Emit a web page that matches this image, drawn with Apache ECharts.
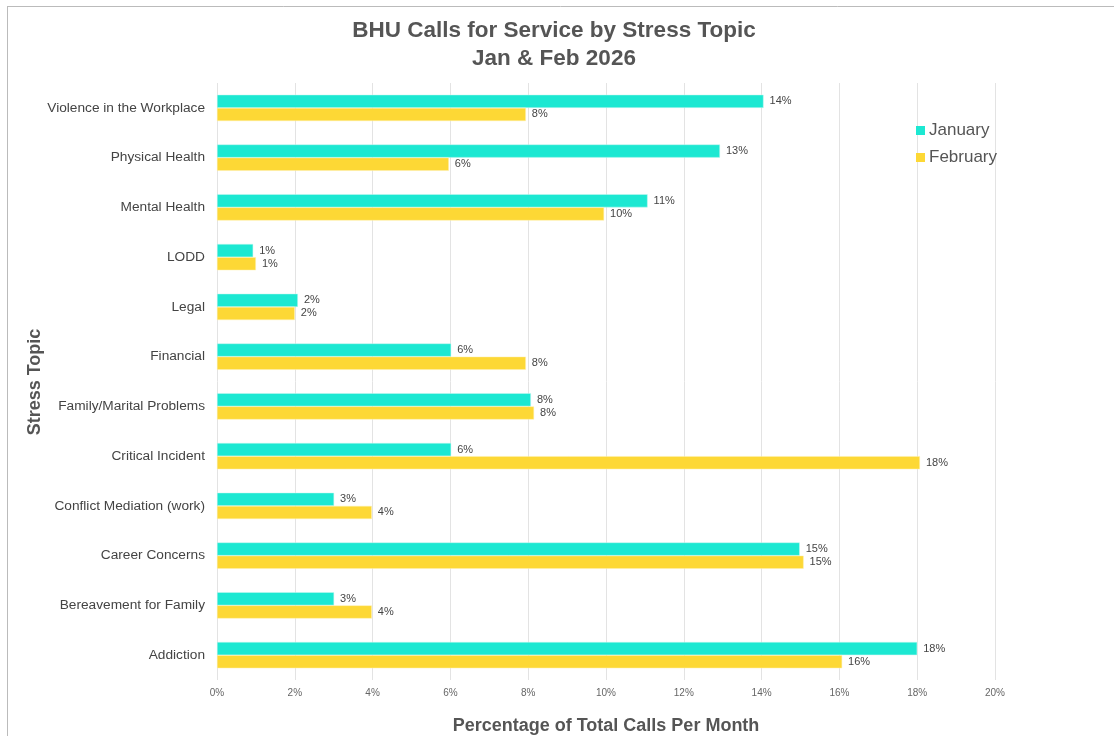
<!DOCTYPE html>
<html>
<head>
<meta charset="utf-8">
<script src="https://cdn.jsdelivr.net/npm/echarts@6/dist/echarts.min.js"></script>
<style>
html,body{margin:0;padding:0;background:#fff;}
#chart{width:1114px;height:736px;}
</style>
</head>
<body>
<div id="chart"></div>
<script>
const categories = [
  'Violence in the Workplace','Physical Health','Mental Health','LODD','Legal',
  'Financial','Family/Marital Problems','Critical Incident','Conflict Mediation (work)',
  'Career Concerns','Bereavement for Family','Addiction'
];
const january = [14.05, 12.93, 11.07, 0.93, 2.08, 6.02, 8.07, 6.02, 3.01, 14.98, 3.01, 18.0];
const february = [7.94, 5.96, 9.95, 1.0, 2.0, 7.94, 8.15, 18.07, 3.98, 15.08, 3.98, 16.07];
const xTicks = [0, 2, 4, 6, 8, 10, 12, 14, 16, 18, 20];
const yAxisTitle = 'Stress Topic';

const chart = echarts.init(document.getElementById('chart'));
const labelCfg = {
  show: true, position: 'right', distance: 6,
  fontFamily: 'Liberation Sans', fontSize: 11, color: '#444',
  formatter: p => Math.round(p.value) + '%'
};
chart.setOption({
  animation: false,
  backgroundColor: '#fff',
  title: {
    text: 'BHU Calls for Service by Stress Topic\nJan & Feb 2026',
    left: 549, top: 12, textAlign: 'center',
    textStyle: { fontFamily: 'Liberation Sans', fontWeight: 'bold', fontSize: 22.5, color: '#555', lineHeight: 28 }
  },
  legend: {
    orient: 'vertical', left: 911, top: 117,
    itemWidth: 9, itemHeight: 9, itemGap: 10,
    icon: 'rect',
    itemStyle: { borderWidth: 0 },
    textStyle: { fontFamily: 'Liberation Sans', fontSize: 17, color: '#555', padding: [0,0,0,-1] },
    data: ['January', 'February']
  },
  grid: { left: 217, right: 119, top: 83, bottom: 56, outerBoundsMode: 'none', containLabel: false },
  xAxis: {
    type: 'value', min: xTicks[0], max: xTicks[xTicks.length - 1], interval: 2,
    name: 'Percentage of Total Calls Per Month', nameLocation: 'middle', nameGap: 37,
    nameTextStyle: { fontFamily: 'Liberation Sans', fontWeight: 'bold', fontSize: 18, color: '#555' },
    axisLine: { show: false }, axisTick: { show: false },
    axisLabel: { formatter: v => v + '%', fontFamily: 'Liberation Sans', fontSize: 10, color: '#666', margin: 8 },
    splitLine: { show: true, lineStyle: { color: '#e3e3e3', width: 1 } }
  },
  yAxis: {
    type: 'category', data: categories, inverse: true,
    axisLine: { show: false }, axisTick: { show: false },
    axisLabel: { fontFamily: 'Liberation Sans', fontSize: 13.7, color: '#444', margin: 12 },
    splitLine: { show: false }
  },
  graphic: [
    { type: 'line', shape: { x1: 7, y1: 6.5, x2: 1114, y2: 6.5 }, style: { stroke: '#bbb', lineWidth: 1 } },
    { type: 'line', shape: { x1: 7.5, y1: 6, x2: 7.5, y2: 736 }, style: { stroke: '#bbb', lineWidth: 1 } },
    {
      type: 'text', x: 35, y: 382, rotation: Math.PI / 2,
      style: {
        text: yAxisTitle, align: 'center', verticalAlign: 'middle',
        fontFamily: 'Liberation Sans', fontWeight: 'bold', fontSize: 18, fill: '#555'
      }
    }
  ],
  series: [
    {
      name: 'January', type: 'bar', data: january,
      barGap: '0%', barCategoryGap: '47%',
      itemStyle: { color: '#1CE8D2', borderColor: '#c8f7f1', borderWidth: 0.5 },
      label: labelCfg
    },
    {
      name: 'February', type: 'bar', data: february,
      itemStyle: { color: '#FDD835', borderColor: '#fff0b0', borderWidth: 0.5 },
      label: labelCfg
    }
  ]
});
</script>
</body>
</html>
